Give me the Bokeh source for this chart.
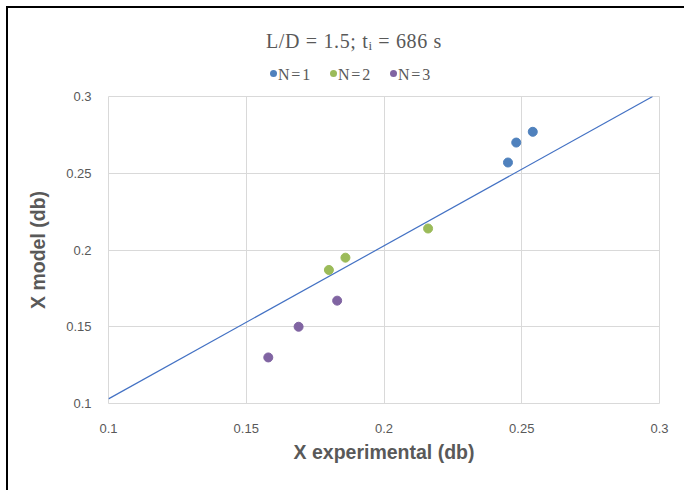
from bokeh.plotting import figure
from bokeh.models import FixedTicker, Range1d, Div
from bokeh.layouts import column
from bokeh.embed import file_html
from bokeh.resources import INLINE

# ---- data ----
x_ticks = [0.1, 0.15, 0.2, 0.25, 0.3]
y_ticks = [0.1, 0.15, 0.2, 0.25, 0.3]
tick_labels = ["0.1", "0.15", "0.2", "0.25", "0.3"]

series_names = ["N=1", "N=2", "N=3"]
n1_x = [0.245, 0.248, 0.254]
n1_y = [0.257, 0.270, 0.277]
n2_x = [0.180, 0.186, 0.216]
n2_y = [0.187, 0.195, 0.214]
n3_x = [0.158, 0.169, 0.183]
n3_y = [0.130, 0.150, 0.167]

line_x = [0.1, 0.2975]
line_y = [0.103, 0.3]

title_main = "L/D = 1.5; t"
title_sub = "i"
title_rest = " = 686 s"
x_title = "X experimental (db)"
y_title = "X model (db)"

colors = ["#4F81BD", "#9BBB59", "#8064A2"]
text_gray = "#595959"
grid_gray = "#D9D9D9"

# ---- header (title + legend) ----
legend_html = ""
legend_circle_left = [262, 322, 382]
legend_text_left = [270, 330, 390]
for name, col, cl, tl in zip(series_names, colors, legend_circle_left, legend_text_left):
    legend_html += (
        '<div style="position:absolute; left:%dpx; top:62px; width:7px; height:7px; '
        'border-radius:50%%; background:%s;"></div>' % (cl, col)
    )
    legend_html += (
        '<div style="position:absolute; left:%dpx; top:57px; font-family:\'Liberation Serif\'; '
        'font-size:16px; line-height:19px; letter-spacing:1.8px; color:%s; white-space:nowrap;">%s</div>'
        % (tl, text_gray, name)
    )

header_html = (
    '<div style="position:relative; width:676px; height:78px;">'
    '<div style="position:absolute; left:258px; top:21px; font-family:\'Liberation Serif\'; '
    'font-size:20px; line-height:24px; letter-spacing:0.65px; color:%s; white-space:nowrap;">'
    '%s<sub style="font-size:13px; vertical-align:-2px; line-height:0;">%s</sub>%s</div>'
    '%s</div>' % (text_gray, title_main, title_sub, title_rest, legend_html)
)
header = Div(text=header_html, width=676, height=78, margin=0)

# ---- plot ----
p = figure(width=676, height=404, output_backend="svg", toolbar_location=None,
           x_range=Range1d(0.1, 0.3), y_range=Range1d(0.1, 0.3),
           min_border_left=100, min_border_right=25, min_border_top=10,
           min_border_bottom=87, margin=0)
p.outline_line_color = grid_gray
p.outline_line_width = 1
p.background_fill_color = "white"
p.border_fill_color = "white"

for ax, ticks in ((p.xaxis[0], x_ticks), (p.yaxis[0], y_ticks)):
    ax.ticker = FixedTicker(ticks=ticks)
    ax.major_label_overrides = {t: l for t, l in zip(ticks, tick_labels)}
    ax.axis_line_color = None
    ax.major_tick_line_color = None
    ax.minor_tick_line_color = None
    ax.major_tick_out = 0
    ax.major_tick_in = 0
    ax.major_label_text_font = "Liberation Sans"
    ax.major_label_text_font_size = "13px"
    ax.major_label_text_color = text_gray
    ax.axis_label_text_font = "Liberation Sans"
    ax.axis_label_text_font_size = "19.5px"
    ax.axis_label_text_font_style = "bold"
    ax.axis_label_text_color = text_gray

p.xaxis.axis_label = x_title
p.yaxis.axis_label = y_title
p.xaxis.major_label_standoff = 20
p.xaxis.axis_label_standoff = 5
p.yaxis.major_label_standoff = 17
p.yaxis.axis_label_standoff = 14

p.xgrid.ticker = FixedTicker(ticks=x_ticks)
p.ygrid.ticker = FixedTicker(ticks=y_ticks)
p.grid.grid_line_color = grid_gray
p.grid.grid_line_width = 1

p.line(line_x, line_y, line_color="#4472C4", line_width=1.2)

for xs, ys, c, name in ((n1_x, n1_y, colors[0], series_names[0]),
                        (n2_x, n2_y, colors[1], series_names[1]),
                        (n3_x, n3_y, colors[2], series_names[2])):
    p.scatter(xs, ys, size=9, marker="circle", fill_color=c, line_color=c, name=name)

layout = column(header, p, spacing=0, margin=(6, 0, 0, 6),
                styles={"border-left": "2px solid #000000", "border-top": "2px solid #000000"})

open("out.html", "w").write(file_html(layout, INLINE))
